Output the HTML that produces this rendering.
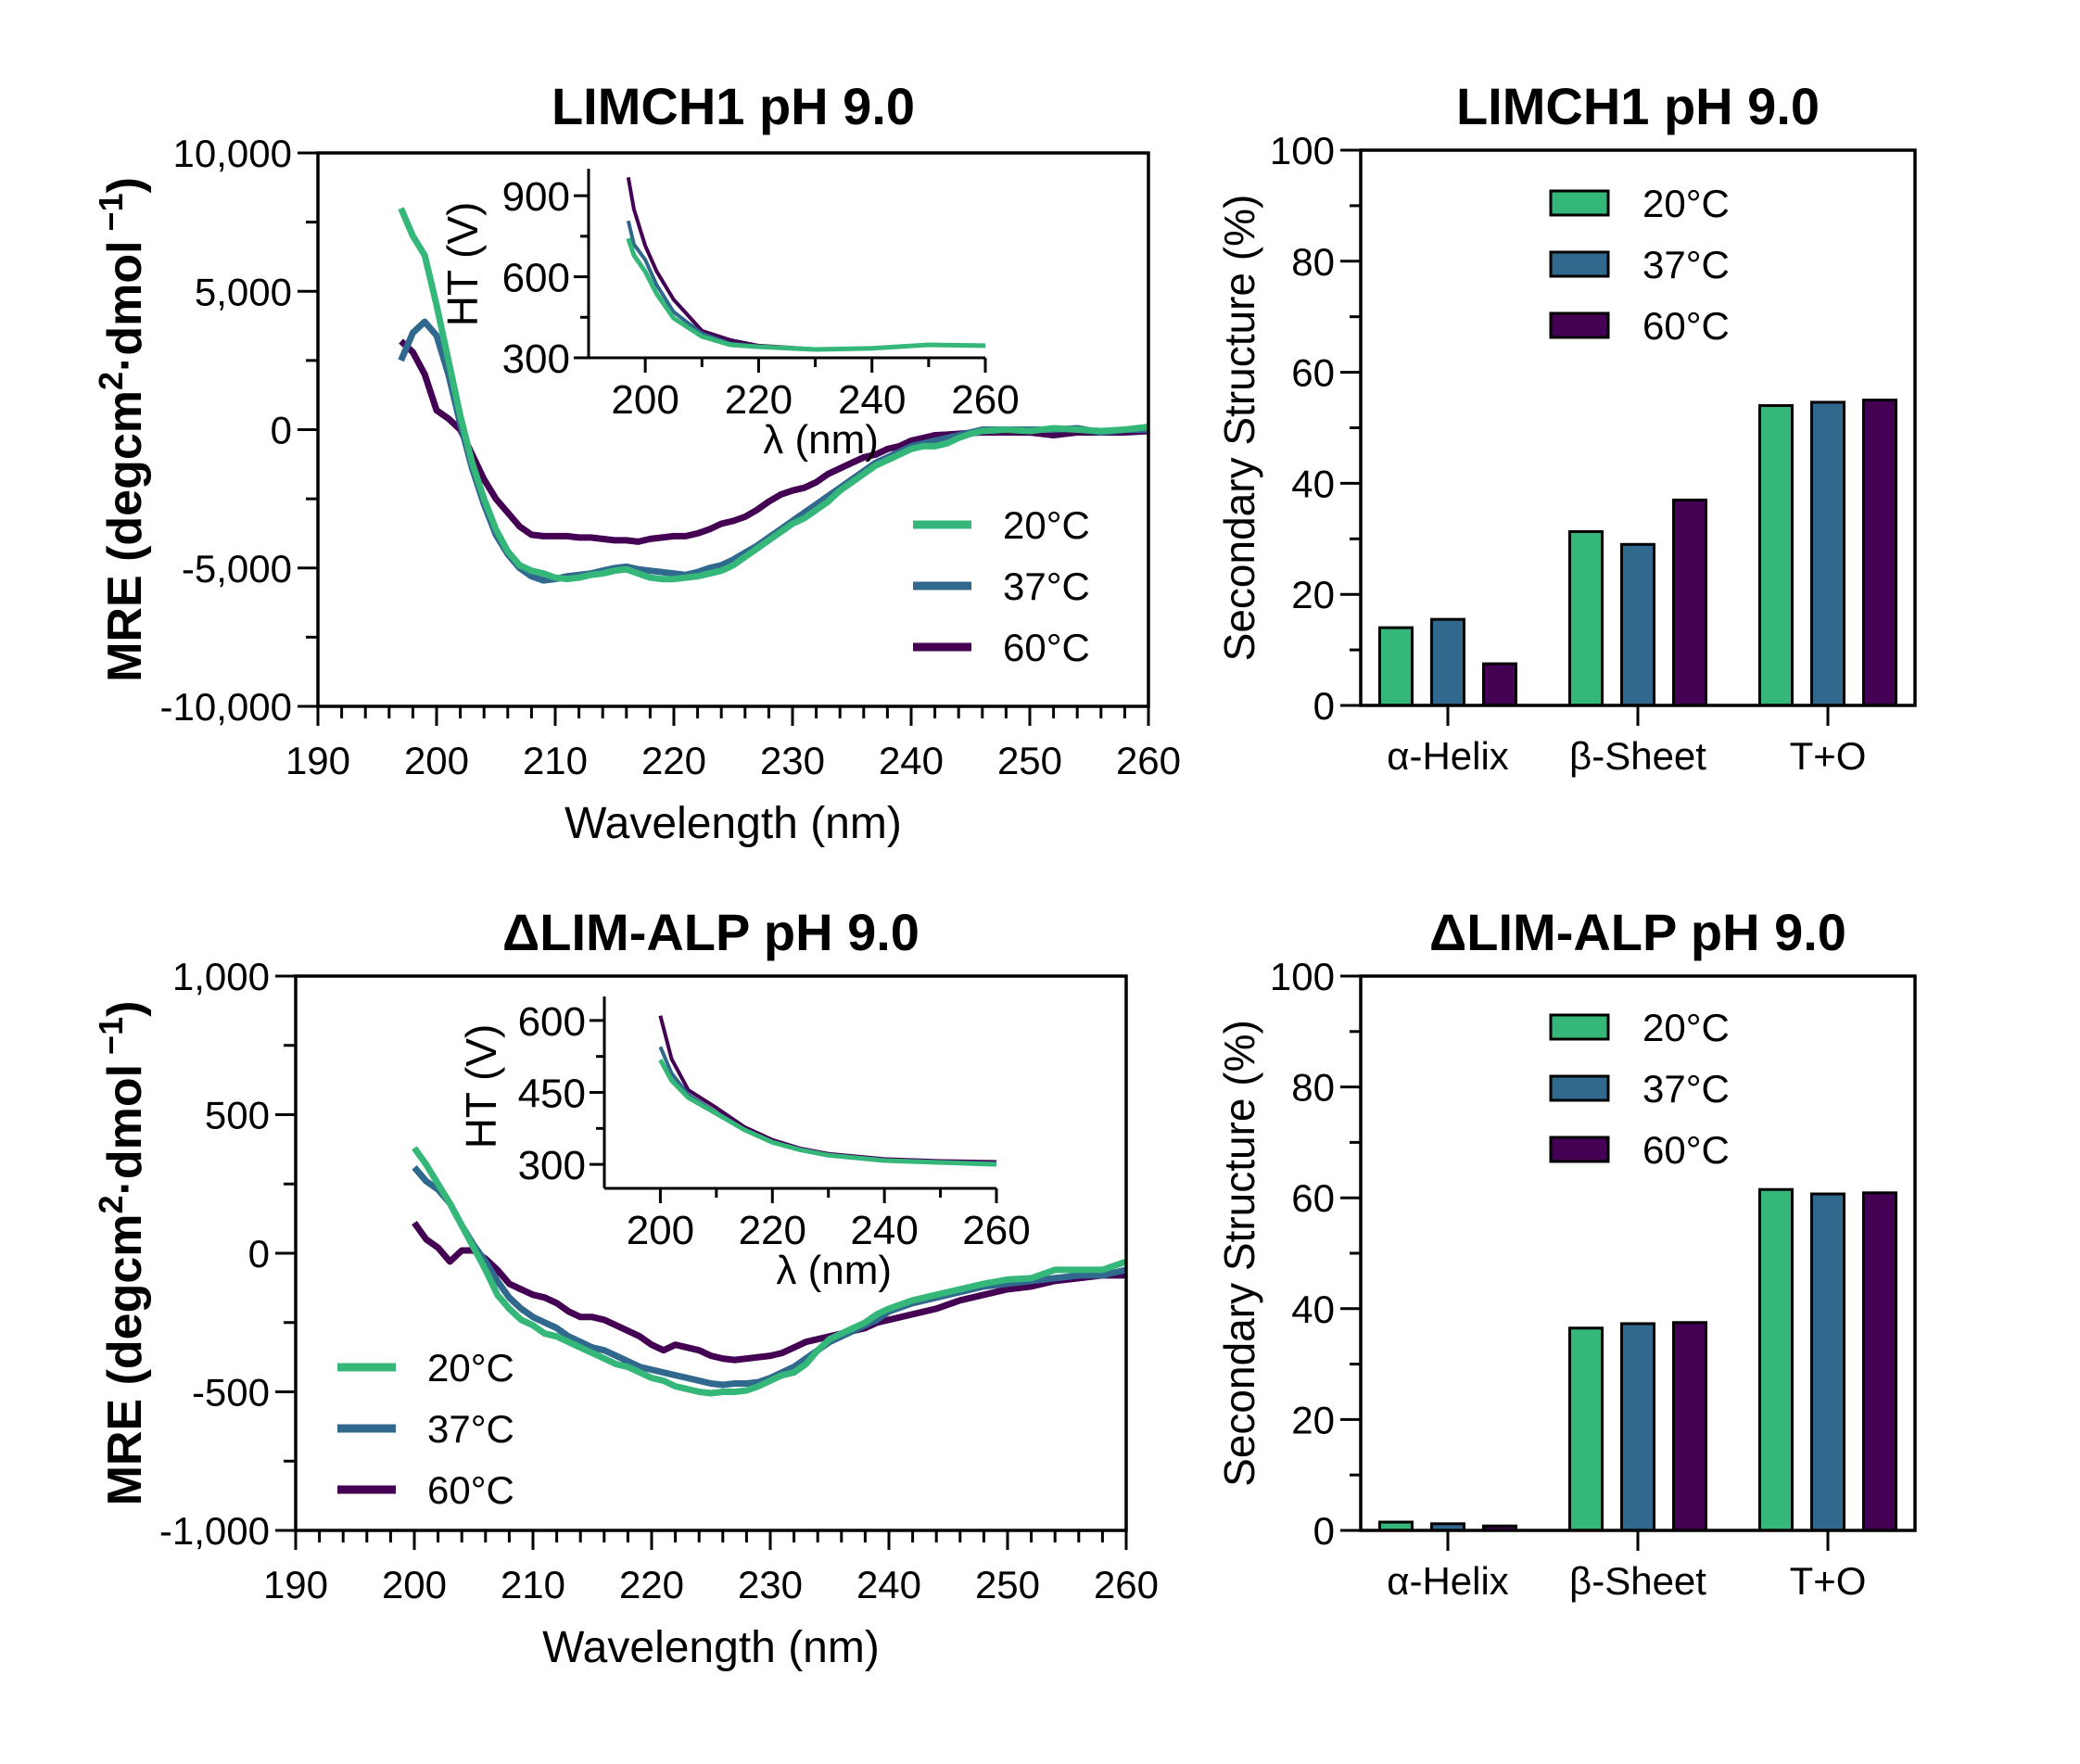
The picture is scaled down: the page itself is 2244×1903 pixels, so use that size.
<!DOCTYPE html>
<html><head><meta charset="utf-8">
<style>
html,body{margin:0;padding:0;background:#fff;}
svg{display:block;font-family:"Liberation Sans",Arial,sans-serif;}
</style></head>
<body>
<svg id="fig" width="2244" height="1903" viewBox="0 0 2244 1903" xmlns="http://www.w3.org/2000/svg"></svg>
<script>
// ---------- DATA ----------
const seriesNames = ["20°C","37°C","60°C"];
const seriesColors = ["#35b779","#31688e","#440154"];

// Top CD spectra (LIMCH1)
const topWl = [197,198,199,200,201,202,203,204,205,206,207,208,209,210,211,212,213,214,215,216,217,218,219,220,221,222,223,224,225,226,227,228,229,230,231,232,233,234,235,236,237,238,239,240,241,242,243,244,245,246,248,250,252,254,256,258,260];
const top20 = [8000,7000,6300,4500,2500,500,-1200,-2500,-3600,-4400,-4900,-5100,-5200,-5350,-5400,-5350,-5250,-5200,-5100,-5050,-5200,-5350,-5400,-5400,-5350,-5300,-5200,-5100,-4900,-4600,-4300,-4000,-3700,-3400,-3200,-2900,-2600,-2200,-1900,-1600,-1300,-1100,-900,-700,-600,-600,-500,-300,-150,-50,0,-50,50,0,-50,0,100];
const top37 = [2500,3500,3900,3400,2000,200,-1400,-2700,-3800,-4500,-5000,-5300,-5450,-5400,-5300,-5250,-5200,-5100,-5000,-4950,-5050,-5100,-5150,-5200,-5250,-5150,-5000,-4900,-4700,-4450,-4200,-3900,-3600,-3300,-3000,-2700,-2400,-2100,-1800,-1500,-1200,-1000,-800,-600,-500,-400,-300,-200,-100,0,0,0,0,50,-100,0,0];
const top60 = [3200,2800,2000,700,400,0,-900,-1800,-2500,-3000,-3500,-3800,-3850,-3850,-3850,-3900,-3900,-3950,-4000,-4000,-4050,-3950,-3900,-3850,-3850,-3750,-3600,-3400,-3300,-3150,-2900,-2600,-2350,-2200,-2100,-1900,-1600,-1400,-1200,-1000,-900,-700,-600,-400,-300,-200,-180,-150,-120,-100,-100,-100,-200,-100,-100,-100,-50];
// Top inset HT
const topHtWl = [197,198,200,202,205,210,215,220,230,240,250,260];
const topHt20 = [742,680,619,537,447,379,348,341,331,335,348,345];
const topHt37 = [807,720,663,570,470,390,352,342,331,335,348,345];
const topHt60 = [968,850,715,620,516,400,366,345,332,335,348,345];

// Bottom CD spectra (dLIM-ALP)
const botWl = [200,201,202,203,204,205,206,207,208,209,210,211,212,213,214,215,216,217,218,219,220,221,222,223,224,225,226,227,228,229,230,231,232,233,234,235,236,237,238,239,240,242,244,246,248,250,252,254,256,258,260];
const bot20 = [380,320,250,180,100,20,-60,-150,-200,-240,-260,-290,-300,-320,-340,-360,-380,-400,-410,-430,-450,-460,-480,-490,-500,-505,-500,-500,-495,-480,-460,-440,-430,-400,-350,-310,-290,-270,-250,-220,-200,-170,-150,-130,-110,-95,-90,-60,-60,-60,-30];
const bot37 = [310,260,230,180,100,30,-30,-100,-160,-200,-230,-250,-270,-300,-320,-340,-350,-370,-390,-410,-420,-430,-440,-450,-460,-470,-475,-470,-470,-465,-450,-430,-410,-380,-350,-320,-300,-280,-260,-240,-210,-180,-160,-140,-120,-110,-100,-90,-80,-80,-60];
const bot60 = [110,50,20,-30,10,10,-20,-60,-110,-130,-150,-160,-180,-210,-230,-230,-240,-260,-280,-300,-330,-350,-330,-340,-350,-370,-380,-385,-380,-375,-370,-360,-340,-320,-310,-300,-290,-280,-270,-250,-240,-220,-200,-170,-150,-130,-120,-100,-90,-80,-80];
// Bottom inset HT
const botHtWl = [200,202,205,210,215,220,225,230,240,250,260];
const botHt20 = [518,475,439,406,372,346,330,319,308,304,300];
const botHt37 = [545,490,445,408,373,347,331,320,309,305,302];
const botHt60 = [610,520,455,418,378,351,333,322,311,307,305];

// Bar data
const barCategories = ["α-Helix","β-Sheet","T+O"];
const barTop20 = [14,31.3,54];
const barTop37 = [15.5,29,54.6];
const barTop60 = [7.5,37,55];
const barBot20 = [1.5,36.5,61.5];
const barBot37 = [1.2,37.3,60.7];
const barBot60 = [0.8,37.5,60.9];

const topYTicks = ["-10,000","-5,000","0","5,000","10,000"];
const botYTicks = ["-1,000","-500","0","500","1,000"];
const xTickLabels = ["190","200","210","220","230","240","250","260"];
const barYTicks = ["0","20","40","60","80","100"];

// ---------- HELPERS ----------
const NS="http://www.w3.org/2000/svg";
const svg=document.getElementById('fig');
function el(tag,attrs,parent,text){const e=document.createElementNS(NS,tag);for(const k in attrs)e.setAttribute(k,attrs[k]);if(text!==undefined)e.textContent=text;(parent||svg).appendChild(e);return e;}
function lin(d0,d1,r0,r1){return v=>r0+(v-d0)*(r1-r0)/(d1-d0);}
function line(g,x1,y1,x2,y2,w){return el('line',{x1,y1,x2,y2,stroke:'#000','stroke-width':w||3},g);}

function cdChart(o){
  const g=el('g',{});
  
  
  const X=lin(190,260,o.x0,o.x1), Y=lin(o.ymin,o.ymax,o.yb,o.yt);
  const t=el('text',{x:(o.x0+o.x1)/2,y:o.titleY,'text-anchor':'middle','font-size':56,'font-weight':'bold'},g,o.title);
  
  for(let i=o.series.length-1;i>=0;i--){
    const s=o.series[i];
    const p=el('polyline',{points:o.wl.map((w,j)=>X(w).toFixed(1)+','+Y(s[j]).toFixed(1)).join(' '),fill:'none',stroke:seriesColors[i],'stroke-width':7,'stroke-linejoin':'round'},g);
    
    
  }
  el('rect',{x:o.x0,y:o.yt,width:o.x1-o.x0,height:o.yb-o.yt,fill:'none',stroke:'#000','stroke-width':3.5},g);
  for(let w=190;w<=260;w+=2){const maj=(w%10===0);line(g,X(w),o.yb,X(w),o.yb+(maj?21:13),3);}
  xTickLabels.forEach((lb,i)=>{const tx=el('text',{x:X(+lb),y:o.yb+73,'text-anchor':'middle','font-size':42},g,lb);
    });
  const step=(o.ymax-o.ymin)/8;
  for(let k=0;k<=8;k++){const v=o.ymin+k*step;line(g,o.x0,Y(v),o.x0-(k%2===0?22:13),Y(v),3);}
  o.yLabels.forEach((lb,i)=>{const v=o.ymin+i*2*step;const tx=el('text',{x:o.x0-28,y:Y(v)+15,'text-anchor':'end','font-size':42},g,lb);
    });
  const xt=el('text',{x:(o.x0+o.x1)/2,y:o.yb+142,'text-anchor':'middle','font-size':48},g,'Wavelength (nm)');
  
  const yt=el('text',{transform:`translate(152,${(o.yt+o.yb)/2}) rotate(-90)`,'text-anchor':'middle','font-size':52,'font-weight':'bold'},g);
  
  el('tspan',{},yt,'MRE (degcm');
  el('tspan',{dy:-20,'font-size':36},yt,'2');
  el('tspan',{dy:20},yt,'·dmol');
  el('tspan',{dy:-20,'font-size':36},yt,' −1');
  el('tspan',{dy:20},yt,')');
  seriesNames.forEach((n,i)=>{
    const ly=o.legY+i*66;
    const l=el('line',{x1:o.legX,y1:ly,x2:o.legX+63,y2:ly,stroke:seriesColors[i],'stroke-width':9},g);
    
    const tx=el('text',{x:o.legX+97,y:ly+15,'font-size':42},g,n);
    
  });
  const ins=o.inset;
  const ig=el('g',{},g);
  
  const IX=lin(190,260,ins.x0,ins.x1), IY=lin(ins.ymin,ins.ymax,ins.yb,ins.yt);
  for(let i=ins.series.length-1;i>=0;i--){
    const s=ins.series[i];
    const p=el('polyline',{points:ins.wl.map((w,j)=>IX(w).toFixed(1)+','+IY(s[j]).toFixed(1)).join(' '),fill:'none',stroke:seriesColors[i],'stroke-width':i===0?5:4,'stroke-linejoin':'round'},ig);
    
  }
  line(ig,ins.x0,ins.yt,ins.x0,ins.yb,3);line(ig,ins.x0,ins.yb,ins.x1,ins.yb,3);
  for(let w=200;w<=260;w+=10){line(ig,IX(w),ins.yb,IX(w),ins.yb+(w%20===0?16:10),3);}
  [200,220,240,260].forEach(w=>{const tx=el('text',{x:IX(w),y:ins.yb+60,'text-anchor':'middle','font-size':44},ig,String(w));
    });
  ins.ticks.forEach((v,i)=>{line(ig,ins.x0,IY(v),ins.x0-(i%2===0?16:9),IY(v),3);});
  ins.labels.forEach(lb=>{const tx=el('text',{x:ins.x0-20,y:IY(+lb)+16,'text-anchor':'end','font-size':44},ig,lb);
    });
  const lx=el('text',{x:(IX(200)+IX(260))/2+6,y:ins.yb+103,'text-anchor':'middle','font-size':44},ig,'λ (nm)');
  
  const ly=el('text',{transform:`translate(${ins.htX},${ins.htY}) rotate(-90)`,'text-anchor':'middle','font-size':46},ig,'HT (V)');
  
}

function barChart(o){
  const g=el('g',{});
  
  
  const Y=lin(0,100,o.yb,o.yt);
  const t=el('text',{x:1767,y:o.titleY,'text-anchor':'middle','font-size':56,'font-weight':'bold'},g,o.title);
  
  const centers=[1562,1767,1972], off=[-56,0,56], bw=35;
  o.series.forEach((s,i)=>{
    s.forEach((v,c)=>{
      const r=el('rect',{x:centers[c]+off[i]-bw/2,y:Y(v),width:bw,height:o.yb-Y(v),fill:seriesColors[i],stroke:'#000','stroke-width':3},g);
      
      
    });
  });
  el('rect',{x:1468,y:o.yt,width:2066-1468,height:o.yb-o.yt,fill:'none',stroke:'#000','stroke-width':3.5},g);
  for(let v=0;v<=100;v+=10){line(g,1468,Y(v),1468-(v%20===0?22:12),Y(v),3);}
  barYTicks.forEach(lb=>{const tx=el('text',{x:1440,y:Y(+lb)+15,'text-anchor':'end','font-size':42},g,lb);
    });
  barCategories.forEach((c,i)=>{line(g,centers[i],o.yb,centers[i],o.yb+22,3);
    const tx=el('text',{x:centers[i],y:o.yb+69,'text-anchor':'middle','font-size':42},g,c);
    });
  const yt=el('text',{transform:`translate(1353,${(o.yt+o.yb)/2}) rotate(-90)`,'text-anchor':'middle','font-size':46},g,'Secondary Structure (%)');
  
  seriesNames.forEach((n,i)=>{
    const cy=o.legY+i*66;
    const r=el('rect',{x:1673,y:cy-13,width:62,height:26,fill:seriesColors[i],stroke:'#000','stroke-width':3},g);
    
    const tx=el('text',{x:1772,y:cy+15,'font-size':42},g,n);
    
  });
}

cdChart({name:'limch1-cd-chart',title:'LIMCH1 pH 9.0',titleY:134,x0:343,x1:1239,yt:165,yb:762,ymin:-10000,ymax:10000,
  yLabels:topYTicks,wl:topWl,series:[top20,top37,top60],legX:985,legY:566,
  inset:{x0:635,x1:1063,yt:182,yb:386,ymin:300,ymax:1000,wl:topHtWl,series:[topHt20,topHt37,topHt60],
    ticks:[300,450,600,750,900],labels:["300","600","900"],htX:515,htY:285}});
cdChart({name:'dlim-alp-cd-chart',title:'ΔLIM-ALP pH 9.0',titleY:1025,x0:319,x1:1215,yt:1053,yb:1651,ymin:-1000,ymax:1000,
  yLabels:botYTicks,wl:botWl,series:[bot20,bot37,bot60],legX:364,legY:1475,
  inset:{x0:652,x1:1075,yt:1075,yb:1282,ymin:250,ymax:650,wl:botHtWl,series:[botHt20,botHt37,botHt60],
    ticks:[300,375,450,525,600],labels:["300","450","600"],htX:535,htY:1172}});
barChart({name:'limch1-structure-bars',title:'LIMCH1 pH 9.0',titleY:134,yt:162,yb:761,legY:219,series:[barTop20,barTop37,barTop60]});
barChart({name:'dlim-alp-structure-bars',title:'ΔLIM-ALP pH 9.0',titleY:1025,yt:1053,yb:1651,legY:1108,series:[barBot20,barBot37,barBot60]});
</script>
</body></html>
